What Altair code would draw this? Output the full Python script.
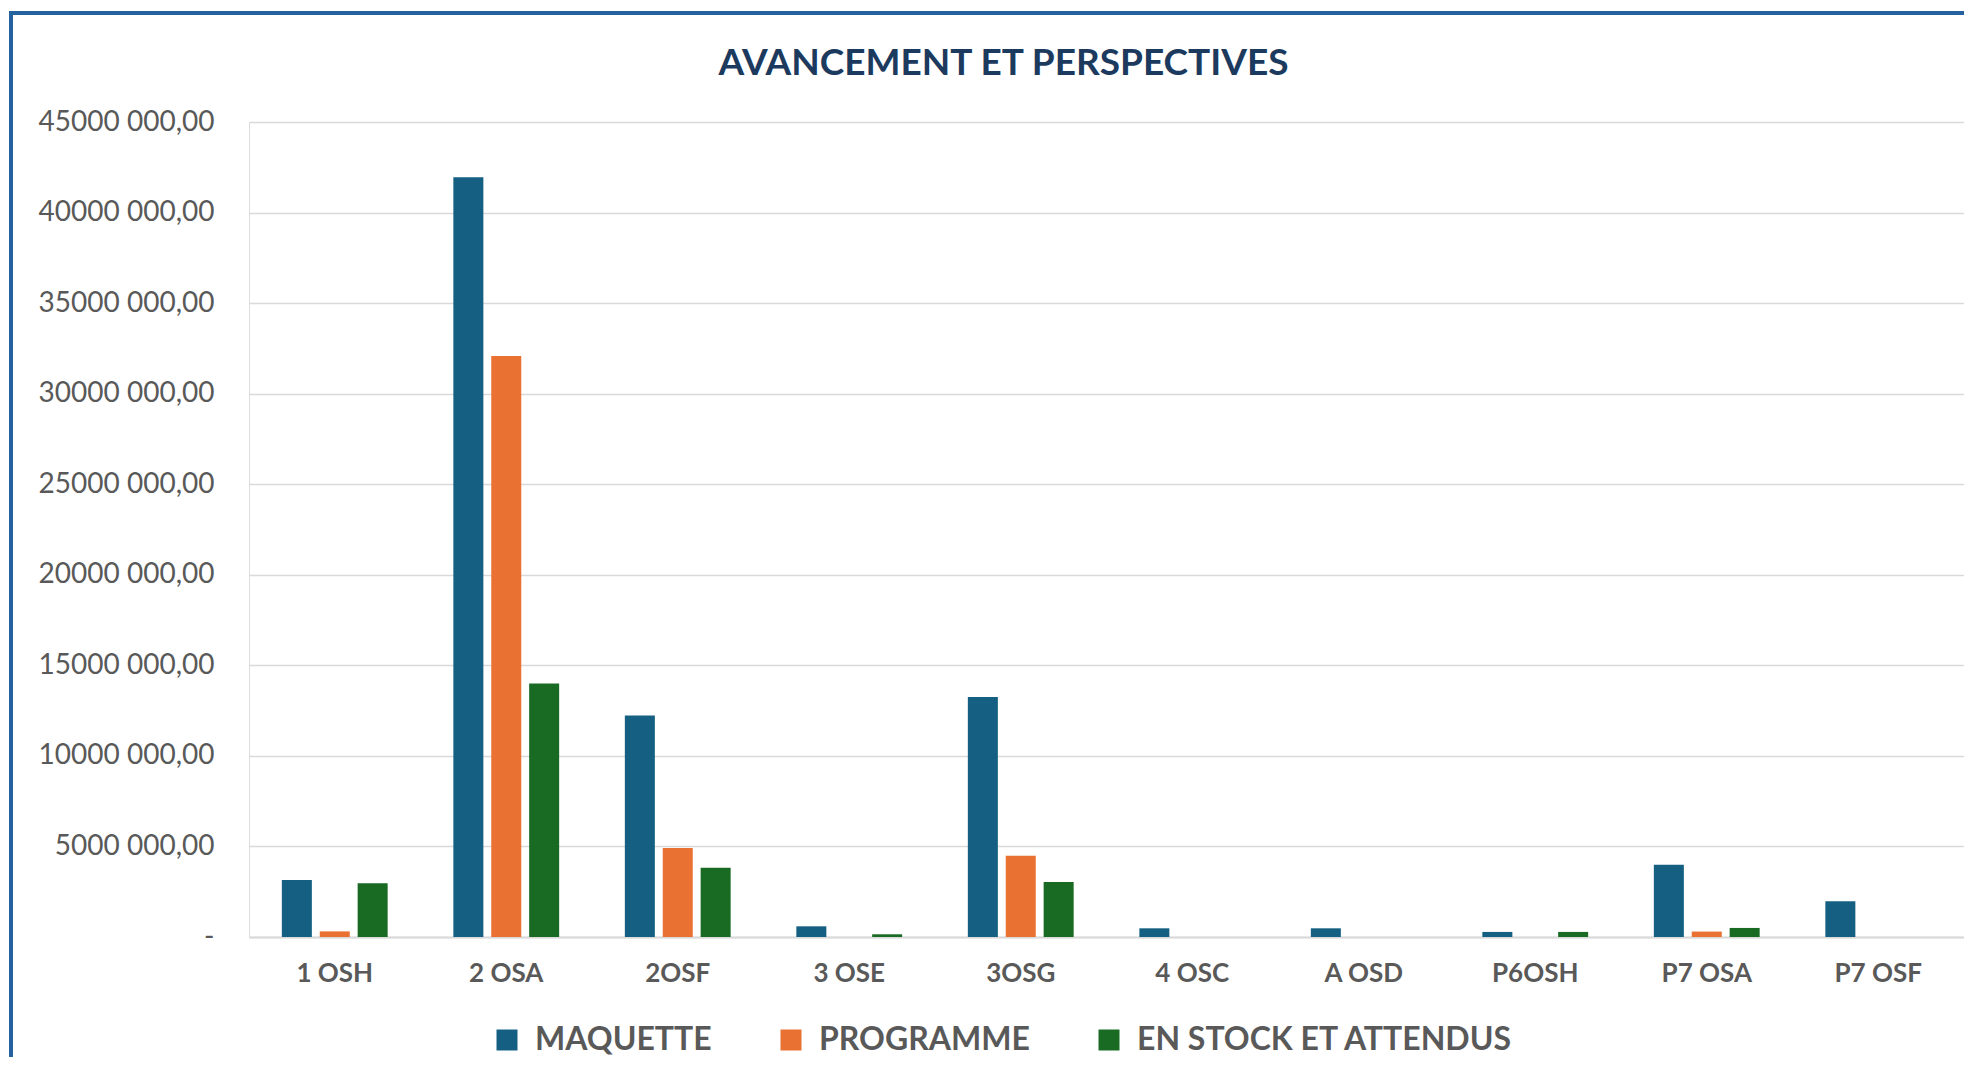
import altair as alt
import pandas as pd

categories = ["1 OSH", "2 OSA", "2OSF", "3 OSE", "3OSG", "4 OSC", "A OSD", "P6OSH", "P7 OSA", "P7 OSF"]
series = ["MAQUETTE", "PROGRAMME", "EN STOCK ET ATTENDUS"]
maquette = [3150000, 41950000, 12230000, 590000, 13250000, 480000, 480000, 280000, 3990000, 1970000]
programme = [310000, 32080000, 4910000, 0, 4480000, 0, 0, 0, 300000, 0]
stock = [2970000, 14000000, 3820000, 150000, 3040000, 0, 0, 280000, 500000, 0]
y_ticks = [0, 5000000, 10000000, 15000000, 20000000, 25000000, 30000000, 35000000, 40000000, 45000000]
colors = ["#156082", "#E97132", "#196B24"]

rows = []
for name, vals in zip(series, [maquette, programme, stock]):
    for c, v in zip(categories, vals):
        rows.append({"cat": c, "serie": name, "val": v})
df = pd.DataFrame(rows)

W, H = 1715, 815
FONT = "Lato"
GREY = "#595959"

bars = alt.Chart(df).mark_bar().encode(
    x=alt.X("cat:N", sort=categories,
            scale=alt.Scale(paddingInner=0.383, paddingOuter=0.1915),
            axis=alt.Axis(title=None, labelAngle=0, labelFont=FONT, labelFontSize=26,
                          labelFontWeight="bold", labelColor=GREY, ticks=False,
                          labelPadding=23, domainColor="#D9D9D9", domainWidth=2)),
    xOffset=alt.XOffset("serie:N", sort=series,
                        scale=alt.Scale(paddingInner=0.208, paddingOuter=0)),
    y=alt.Y("val:Q", scale=alt.Scale(domain=[0, 45000000], nice=False),
            axis=alt.Axis(title=None, values=y_ticks, labelFont=FONT, labelFontSize=28,
                          labelColor=GREY, ticks=False, domain=False, labelPadding=35,
                          gridColor="#D9D9D9", gridWidth=1.5,
                          labelExpr="datum.value == 0 ? '-\u2002' : floor(datum.value/1000) + ' 000,00'")),
    color=alt.Color("serie:N", sort=series, scale=alt.Scale(domain=series, range=colors),
                    legend=alt.Legend(title=None, orient="none", direction="horizontal",
                                      legendX=242, legendY=902, symbolType="square",
                                      symbolSize=441, symbolStrokeWidth=0, labelFont=FONT,
                                      labelFontSize=32, labelFontWeight="bold", labelColor=GREY,
                                      labelOffset=12, columnPadding=63, padding=0, labelLimit=0)),
)

deco = pd.DataFrame({"k": [0]})
left_border = alt.Chart(deco).mark_rule(color="#2563A0", strokeWidth=4).encode(
    x=alt.value(-238), y=alt.value(-111), y2=alt.value(H + 130))
top_border = alt.Chart(deco).mark_rule(color="#2563A0", strokeWidth=4).encode(
    x=alt.value(-240), x2=alt.value(W + 10), y=alt.value(-109))

chart = alt.layer(bars, left_border, top_border).properties(
    width=W, height=H,
    title=alt.TitleParams("AVANCEMENT ET PERSPECTIVES", font=FONT, fontSize=37,
                          fontWeight="bold", color="#1B3A5E", anchor="middle",
                          dx=-103, offset=0, dy=74),
    autosize=alt.AutoSizeParams(type="none"),
    padding={"left": 241, "top": 114, "right": 0, "bottom": 120},
).configure_view(stroke=None).configure(background="white")

chart.save("out.html", embed_options={"renderer": "svg", "actions": False})
